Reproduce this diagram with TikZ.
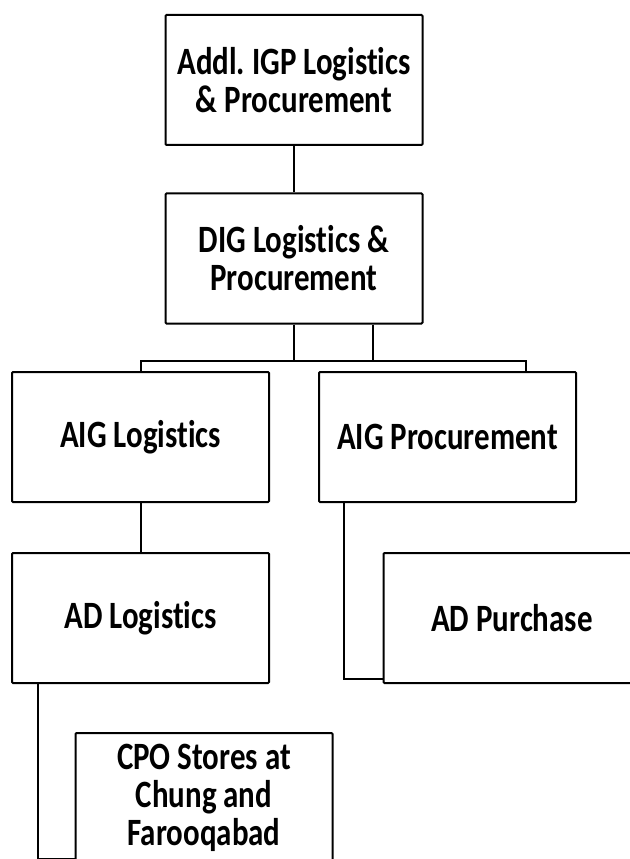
\documentclass[tikz,border=0pt]{standalone}
\usepackage{fontspec}
\usepackage{tikz}
\newfontfamily\boxfont{Carlito}[FakeStretch=0.8, Ligatures=NoCommon]

\begin{document}
\begin{tikzpicture}[x=0.75pt,y=-0.75pt]
	\tikzstyle{post} = [draw=black, line width=1.5pt, rounded corners=0.75pt, minimum width=192.75pt, minimum height=97.5pt, align=center, font=\boxfont\bfseries\fontsize{29}{28.5}\selectfont]
	\tikzstyle{link} = [draw=black, line width=1.5pt]
	\useasboundingbox (0,0) rectangle (629,859);
		\node[post] (addl) at (294,80)    {Addl.\ IGP Logistics\\\& Procurement};
		\node[post] (dig)  at (294,258.5) {DIG Logistics \&\\Procurement};
		\node[post] (aigl) at (140.5,437) {AIG Logistics};
		\node[post] (aigp) at (447.5,437) {AIG Procurement};
		\node[post] (adl)  at (140.5,618) {AD Logistics};
		\node[post] (adp)  at (512,618)   {AD Purchase};
		\node[post] (cpo)  at (204,798)   {CPO Stores at\\Chung and\\Farooqabad};
		\coordinate (busl) at (141,361);
		\coordinate (busr) at (526,361);
	\draw[link] (addl) -- (dig);
	\draw[link] (dig.south) -- (dig.south |- busl);
	\draw[link] ([xshift=59.25pt]dig.south) -- ([xshift=59.25pt]dig.south |- busl);
	\draw[link] (busl |- aigl.north) -- (busl) -- (busr) -- (busr |- aigp.north);
	\draw[link] (aigl) -- (adl);
	\draw[link] ([xshift=19.5pt]aigp.south west) |- ([yshift=3.75pt]adp.south west);
	\draw[link] ([xshift=20.25pt]adl.south west) |- ([yshift=3.75pt]cpo.south west);
	\end{tikzpicture}
\end{document}
